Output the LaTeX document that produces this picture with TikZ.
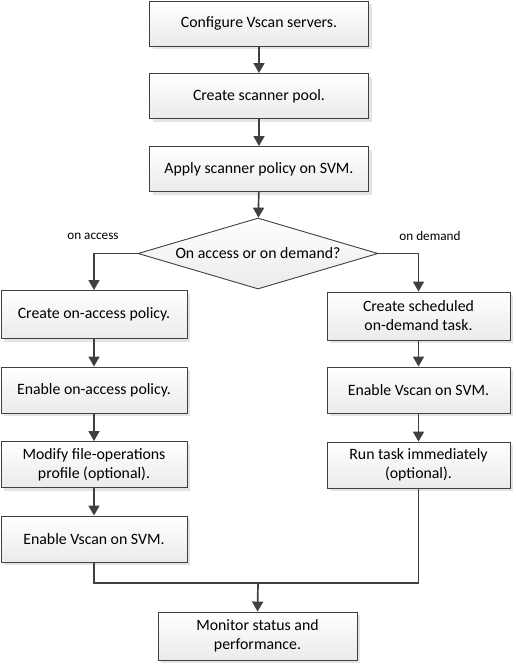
\documentclass[tikz,border=0pt]{standalone}
\usepackage{fontspec}
\setmainfont{Carlito}
\usetikzlibrary{shapes.geometric,arrows.meta,shadows}
\definecolor{edge}{HTML}{404040}
\tikzset{
  stepbox/.style={draw=edge, line width=0.9pt, top color=white, bottom color=gray!16,
    drop shadow={shadow xshift=3pt, shadow yshift=-3pt, fill=gray!35, opacity=0.6},
    align=center, inner sep=0pt, font=\fontsize{15.8}{19}\selectfont},
  decision/.style={diamond, draw=edge, line width=0.9pt, top color=white, bottom color=gray!16,
    inner sep=0pt, minimum width=240pt, minimum height=71pt, aspect=3.4,
    font=\fontsize{15.8}{19}\selectfont},
  flow/.style={draw=edge, line width=1.7pt, -{Triangle[width=11pt,length=10pt]}},
  plain/.style={draw=edge, line width=1.7pt},
  lbl/.style={font=\fontsize{13.2}{15}\selectfont, inner sep=0pt}
}
\begin{document}
\begin{tikzpicture}[x=1pt,y=-1pt]
\useasboundingbox (0,0) rectangle (515,664);
\node[stepbox, minimum width=219pt, minimum height=45pt] (b1) at (259,23.5) {Configure Vscan servers.};
\node[stepbox, minimum width=219pt, minimum height=45pt] (b2) at (259,96) {Create scanner pool.};
\node[stepbox, minimum width=219pt, minimum height=45pt] (b3) at (259,169) {Apply scanner policy on SVM.};
\node[decision] (d) at (258,253.5) {On access or on demand?};
\node[stepbox, minimum width=186pt, minimum height=48pt] (l1) at (94,314.5) {Create on-access policy.};
\node[stepbox, minimum width=186pt, minimum height=46pt] (l2) at (94,390) {Enable on-access policy.};
\node[stepbox, minimum width=186pt, minimum height=46pt] (l3) at (94,464.5) {Modify file-operations\\profile (optional).};
\node[stepbox, minimum width=186pt, minimum height=46pt] (l4) at (94,539) {Enable Vscan on SVM.};
\node[stepbox, minimum width=183pt, minimum height=48pt] (r1) at (418.5,316) {Create scheduled\\on-demand task.};
\node[stepbox, minimum width=183pt, minimum height=46pt] (r2) at (418.5,390) {Enable Vscan on SVM.};
\node[stepbox, minimum width=183pt, minimum height=46pt] (r3) at (418.5,465) {Run task immediately\\(optional).};
\node[stepbox, minimum width=199pt, minimum height=48pt] (m) at (257.5,636) {Monitor status and\\performance.};
\node[lbl] (la) at (93,236) {on access};
\node[lbl] (ld) at (430,236) {on demand};
\coordinate (j) at (258,583);
\draw[flow] (b1) -- (b2);
\draw[flow] (b2) -- (b3);
\draw[flow] (b3) -- (d);
\draw[flow] (d.west) -| (l1.north);
\draw[flow] (d.east) -| (r1.north);
\draw[flow] (l1) -- (l2);
\draw[flow] (l2) -- (l3);
\draw[flow] (l3) -- (l4);
\draw[flow] (r1) -- (r2);
\draw[flow] (r2) -- (r3);
\draw[plain] (l4.south) |- (j);
\draw[plain] (r3.south) |- (j);
\draw[flow] (j) -- (m.north);
\end{tikzpicture}
\end{document}
